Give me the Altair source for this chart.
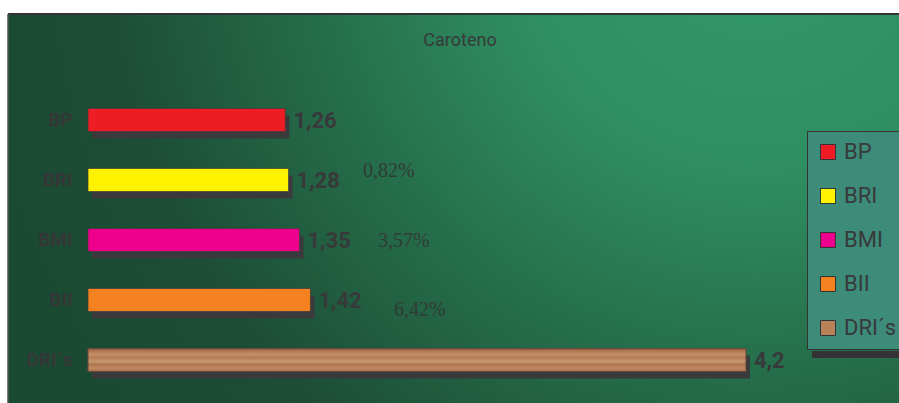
import altair as alt
import pandas as pd

# ---- data ----
categories = ["BP", "BRI", "BMI", "BII", "DRI´s"]
values = [1.26, 1.28, 1.35, 1.42, 4.2]
value_labels = ["1,26", "1,28", "1,35", "1,42", "4,2"]
bar_colors = ["#ee1c25", "#fff200", "#ec008c", "#f58220", "#b5825a"]
pct_categories = ["BRI", "BMI", "BII"]
pct_values = [1.28, 1.35, 1.42]
pct_labels = ["0,82%", "3,57%", "6,42%"]
title_text = "Caroteno"

df = pd.DataFrame({"cat": categories, "value": values, "label": value_labels})
pct_df = pd.DataFrame({"cat": pct_categories, "value": pct_values, "pct": pct_labels})

NARROW = "Roboto"
SERIF = "Liberation Serif"
DARK = "#38393a"

W, H = 712, 389

x_scale = alt.Scale(domain=[0, 4.545], nice=False, zero=True)
y_scale = alt.Scale(domain=categories, range=[64.5, 387.5], paddingInner=0.617, paddingOuter=0.5)

X = alt.X("value:Q", scale=x_scale, axis=None)
Y = alt.Y("cat:N", scale=y_scale, sort=categories, title=None,
          axis=alt.Axis(ticks=False, domain=False, grid=False, labelPadding=16,
                        labelFontSize=19, labelFont=NARROW, labelFontWeight="bold",
                        labelColor="#353637", zindex=1))

one = pd.DataFrame({"d": [0]})

bg = alt.Chart(one).mark_rect(
    color=alt.RadialGradient(
        gradient="radial", x1=0.84, y1=0.18, r1=0, x2=0.84, y2=0.18, r2=0.9,
        stops=[alt.GradientStop(offset=0, color="#34996a"),
               alt.GradientStop(offset=0.3, color="#2f8f62"),
               alt.GradientStop(offset=0.6, color="#246847"),
               alt.GradientStop(offset=0.82, color="#1c4d35"),
               alt.GradientStop(offset=1, color="#1b4a33")])
).encode(x=alt.value(-80), x2=alt.value(811), y=alt.value(0), y2=alt.value(H))

top_line = alt.Chart(one).mark_rule(color="#333333", strokeWidth=2).encode(
    x=alt.value(-80), x2=alt.value(811), y=alt.value(0))
left_line = alt.Chart(one).mark_rule(color="#555555", strokeWidth=1.5).encode(
    x=alt.value(-80), y=alt.value(0), y2=alt.value(H))

legend_shadow = alt.Chart(one).mark_rect(color="#333335").encode(
    x=alt.value(724), x2=alt.value(811), y=alt.value(337), y2=alt.value(344))

base = alt.Chart(df)

shadow = base.mark_bar(color="#3a3a3c", xOffset=4, yOffset=7).encode(x=X, y=Y)

bars = base.mark_bar(stroke="#3c3c3c", strokeWidth=1, strokeOpacity=0.7).encode(
    x=X, y=Y,
    color=alt.Color("cat:N", title=None,
                    scale=alt.Scale(domain=categories, range=bar_colors),
                    legend=alt.Legend(orient="none", legendX=719, legendY=117,
                                      fillColor="#3d8b79", strokeColor="#333333",
                                      padding=10, symbolType="square", symbolSize=225,
                                      symbolStrokeColor="#333333", symbolStrokeWidth=1,
                                      symbolOpacity=1, labelFont=NARROW, labelFontSize=22,
                                      labelColor=DARK, labelOffset=5, rowPadding=22,
                                      zindex=1)))

wood = base.transform_filter(alt.datum.cat == "DRI´s").mark_bar(
    stroke="#6b4a3a", strokeWidth=1,
    color=alt.LinearGradient(
        gradient="linear", x1=0, x2=0, y1=0, y2=1,
        stops=[alt.GradientStop(offset=0, color="#8a5a3e"),
               alt.GradientStop(offset=0.1, color="#b07552"),
               alt.GradientStop(offset=0.25, color="#c49166"),
               alt.GradientStop(offset=0.4, color="#b27a55"),
               alt.GradientStop(offset=0.55, color="#c89a70"),
               alt.GradientStop(offset=0.7, color="#ad7450"),
               alt.GradientStop(offset=0.85, color="#c08a62"),
               alt.GradientStop(offset=1, color="#a87050")])
).encode(x=X, y=Y)

val_text = base.mark_text(align="left", baseline="middle", dx=8, dy=1,
                          font=NARROW, fontSize=22, fontWeight="bold", color=DARK).encode(
    x=X, y=Y, text="label:N")

pct_style = {"BRI": (74.5, -9), "BMI": (78.5, 1), "BII": (83.5, 10)}
pct_layers = []
for c in pct_categories:
    ddx, ddy = pct_style[c]
    pct_layers.append(
        alt.Chart(pct_df).transform_filter(alt.datum.cat == c).mark_text(
            align="left", baseline="middle", dx=ddx, dy=ddy,
            font=SERIF, fontSize=20, color="#333333", opacity=0.85).encode(
            x=X, y=Y, text="pct:N"))

title = alt.Chart(pd.DataFrame({"t": [title_text]})).mark_text(
    font=NARROW, fontSize=18, color=DARK, baseline="middle").encode(
    text="t:N", x=alt.value(372), y=alt.value(27))

chart = alt.layer(bg, top_line, left_line, legend_shadow, shadow, bars, wood, val_text,
                  *pct_layers, title).properties(
    width=W, height=H,
    autosize=alt.AutoSizeParams(type="none"),
    padding={"left": 88, "top": 14, "right": 99, "bottom": 0},
    background="white",
).configure_view(stroke=None)

chart.save("out.html", embed_options={"renderer": "svg", "actions": False})
